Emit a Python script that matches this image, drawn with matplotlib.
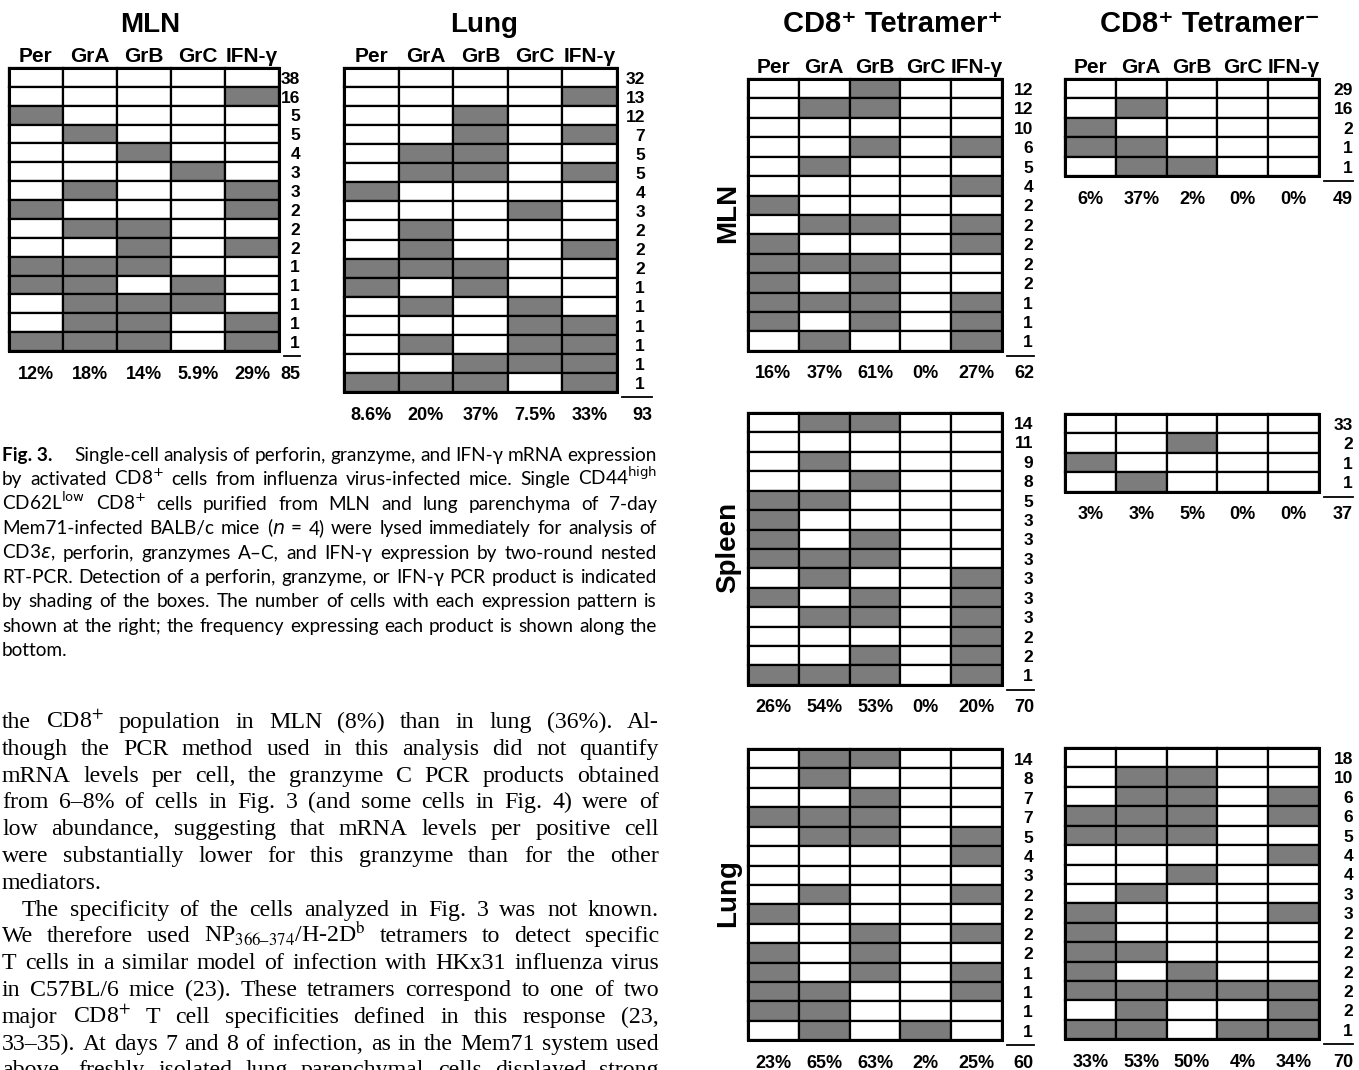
import matplotlib
matplotlib.use("Agg")
import matplotlib.pyplot as plt
from matplotlib import font_manager
from matplotlib.patches import Rectangle

W, H = 1359, 1070

genes = ["Per", "GrA", "GrB", "GrC", "IFN-γ"]

# Fig. 3, MLN (1 = PCR product detected, shaded box)
f3_mln_rows = [
    [0, 0, 0, 0, 0], [0, 0, 0, 0, 1], [1, 0, 0, 0, 0], [0, 1, 0, 0, 0],
    [0, 0, 1, 0, 0], [0, 0, 0, 1, 0], [0, 1, 0, 0, 1], [1, 0, 0, 0, 1],
    [0, 1, 1, 0, 0], [0, 0, 1, 0, 1], [1, 1, 1, 0, 0], [1, 1, 0, 1, 0],
    [0, 1, 1, 1, 0], [0, 1, 1, 0, 1], [1, 1, 1, 0, 1],
]
f3_mln_counts = [38, 16, 5, 5, 4, 3, 3, 2, 2, 2, 1, 1, 1, 1, 1]
f3_mln_pct = ["12%", "18%", "14%", "5.9%", "29%"]
f3_mln_total = 85

# Fig. 3, Lung
f3_lung_rows = [
    [0, 0, 0, 0, 0], [0, 0, 0, 0, 1], [0, 0, 1, 0, 0], [0, 0, 1, 0, 1],
    [0, 1, 1, 0, 0], [0, 1, 1, 0, 1], [1, 0, 0, 0, 0], [0, 0, 0, 1, 0],
    [0, 1, 0, 0, 0], [0, 1, 0, 0, 1], [1, 1, 1, 0, 0], [1, 0, 1, 0, 0],
    [0, 1, 0, 1, 0], [0, 0, 0, 1, 1], [0, 1, 0, 1, 1], [0, 0, 1, 1, 1],
    [1, 1, 1, 0, 1],
]
f3_lung_counts = [32, 13, 12, 7, 5, 5, 4, 3, 2, 2, 2, 1, 1, 1, 1, 1, 1]
f3_lung_pct = ["8.6%", "20%", "37%", "7.5%", "33%"]
f3_lung_total = 93

# Fig. 4, tetramer+ / tetramer- by organ
tp_mln_rows = [
    [0, 0, 1, 0, 0], [0, 1, 1, 0, 0], [0, 0, 0, 0, 0], [0, 0, 1, 0, 1],
    [0, 1, 0, 0, 0], [0, 0, 0, 0, 1], [1, 0, 0, 0, 0], [0, 1, 1, 0, 1],
    [1, 0, 0, 0, 1], [1, 1, 1, 0, 0], [1, 0, 1, 0, 0], [1, 1, 1, 0, 1],
    [1, 0, 1, 0, 1], [0, 1, 0, 0, 1],
]
tp_mln_counts = [12, 12, 10, 6, 5, 4, 2, 2, 2, 2, 2, 1, 1, 1]
tp_mln_pct = ["16%", "37%", "61%", "0%", "27%"]
tp_mln_total = 62

tn_mln_rows = [
    [0, 0, 0, 0, 0], [0, 1, 0, 0, 0], [1, 0, 0, 0, 0], [1, 1, 0, 0, 0],
    [0, 1, 1, 0, 0],
]
tn_mln_counts = [29, 16, 2, 1, 1]
tn_mln_pct = ["6%", "37%", "2%", "0%", "0%"]
tn_mln_total = 49

tp_spl_rows = [
    [0, 1, 1, 0, 0], [0, 0, 0, 0, 0], [0, 1, 0, 0, 0], [0, 0, 1, 0, 0],
    [1, 1, 0, 0, 0], [1, 0, 0, 0, 0], [1, 0, 1, 0, 0], [1, 1, 1, 0, 0],
    [0, 1, 0, 0, 1], [1, 0, 1, 0, 1], [0, 1, 1, 0, 1], [0, 0, 0, 0, 1],
    [0, 0, 1, 0, 1], [1, 1, 1, 0, 1],
]
tp_spl_counts = [14, 11, 9, 8, 5, 3, 3, 3, 3, 3, 3, 2, 2, 1]
tp_spl_pct = ["26%", "54%", "53%", "0%", "20%"]
tp_spl_total = 70

tn_spl_rows = [
    [0, 0, 0, 0, 0], [0, 0, 1, 0, 0], [1, 0, 0, 0, 0], [0, 1, 0, 0, 0],
]
tn_spl_counts = [33, 2, 1, 1]
tn_spl_pct = ["3%", "3%", "5%", "0%", "0%"]
tn_spl_total = 37

tp_lung_rows = [
    [0, 1, 1, 0, 0], [0, 1, 0, 0, 0], [0, 0, 1, 0, 0], [1, 1, 1, 0, 0],
    [0, 1, 1, 0, 1], [0, 0, 0, 0, 1], [0, 0, 0, 0, 0], [0, 1, 0, 0, 1],
    [1, 0, 0, 0, 0], [0, 0, 1, 0, 1], [1, 0, 1, 0, 0], [1, 0, 1, 0, 1],
    [1, 1, 0, 0, 1], [1, 1, 0, 0, 0], [0, 1, 0, 1, 0],
]
tp_lung_counts = [14, 8, 7, 7, 5, 4, 3, 2, 2, 2, 2, 1, 1, 1, 1]
tp_lung_pct = ["23%", "65%", "63%", "2%", "25%"]
tp_lung_total = 60

tn_lung_rows = [
    [0, 0, 0, 0, 0], [0, 1, 1, 0, 0], [0, 1, 1, 0, 1], [1, 1, 1, 0, 1],
    [1, 1, 1, 0, 0], [0, 0, 0, 0, 1], [0, 0, 1, 0, 0], [0, 1, 0, 0, 0],
    [1, 0, 0, 0, 1], [1, 0, 0, 0, 0], [1, 1, 0, 0, 0], [1, 0, 1, 0, 0],
    [1, 1, 1, 1, 1], [0, 1, 0, 0, 1], [1, 1, 0, 1, 1],
]
tn_lung_counts = [18, 10, 6, 6, 5, 4, 4, 3, 3, 2, 2, 2, 2, 2, 1]
tn_lung_pct = ["33%", "53%", "50%", "4%", "34%"]
tn_lung_total = 70

caption_lines = [
    "Single-cell analysis of perforin, granzyme, and IFN-γ mRNA expression",
    "by activated CD8$^{+}$ cells from influenza virus-infected mice. Single CD44$^{\\mathrm{high}}$",
    "CD62L$^{\\mathrm{low}}$ CD8$^{+}$ cells purified from MLN and lung parenchyma of 7-day",
    "Mem71-infected BALB/c mice ($n$ = 4) were lysed immediately for analysis of",
    "CD3$\\varepsilon$, perforin, granzymes A–C, and IFN-γ expression by two-round nested",
    "RT-PCR. Detection of a perforin, granzyme, or IFN-γ PCR product is indicated",
    "by shading of the boxes. The number of cells with each expression pattern is",
    "shown at the right; the frequency expressing each product is shown along the",
    "bottom.",
]

body_lines = [
    "the CD8$^{+}$ population in MLN (8%) than in lung (36%). Al-",
    "though the PCR method used in this analysis did not quantify",
    "mRNA levels per cell, the granzyme C PCR products obtained",
    "from 6–8% of cells in Fig. 3 (and some cells in Fig. 4) were of",
    "low abundance, suggesting that mRNA levels per positive cell",
    "were substantially lower for this granzyme than for the other",
    "mediators.",
    "The specificity of the cells analyzed in Fig. 3 was not known.",
    "We therefore used NP$_{366\u2013374}$/H-2D$^{\\mathrm{b}}$ tetramers to detect specific",
    "T cells in a similar model of infection with HKx31 influenza virus",
    "in C57BL/6 mice (23). These tetramers correspond to one of two",
    "major CD8$^{+}$ T cell specificities defined in this response (23,",
    "33–35). At days 7 and 8 of infection, as in the Mem71 system used",
    "above, freshly isolated lung parenchymal cells displayed strong",
]

SANS = ["Liberation Sans", "DejaVu Sans"]
CAP = ["Lato", "DejaVu Sans"]
SERIF = ["Liberation Serif", "DejaVu Serif"]
GRAY = "#7c7c7c"
PX = 100 / 72  # pixels per point

installed = {f.name for f in font_manager.fontManager.ttflist}
if "Liberation Sans Narrow" in installed:
    CNT_FAM, CNT_FS = ["Liberation Sans Narrow"] + SANS, 14
else:
    CNT_FAM, CNT_FS = SANS, 12.5

fig = plt.figure(figsize=(W / 100, H / 100), dpi=100)
ax = fig.add_axes([0, 0, 1, 1])
ax.set_xlim(0, W)
ax.set_ylim(H, 0)
ax.axis("off")


def btext(x, y, s, fs, ha="center", family=SANS, **kw):
    # y is the visual middle of capitals/digits
    ax.text(x, y + 0.36 * fs * PX, s, fontsize=fs, weight="bold", family=family,
            ha=ha, va="baseline", **kw)


def panel(rows, counts, pct, total, x0, x1, top, rh, cnt_x, tot_x, header=True):
    ncol = len(rows[0])
    cw = (x1 - x0) / ncol
    for i, row in enumerate(rows):
        y = top + i * rh
        for j, v in enumerate(row):
            ax.add_patch(Rectangle((x0 + j * cw, y), cw, rh,
                                   facecolor=GRAY if v else "white",
                                   edgecolor="black", lw=1.6))
        btext(cnt_x, y + rh / 2, str(counts[i]), CNT_FS, ha="right", family=CNT_FAM)
    bottom = top + len(rows) * rh
    ax.add_patch(Rectangle((x0, top), x1 - x0, bottom - top, fill=False,
                           edgecolor="black", lw=2.2))
    if header:
        for j, g in enumerate(genes):
            btext(x0 + (j + 0.5) * cw, top - 13.5, g, 15)
    for j, p in enumerate(pct):
        btext(x0 + (j + 0.5) * cw, bottom + 21, p, 13)
    btext(tot_x, bottom + 21, str(total), 13, ha="right")
    ax.plot([x1 + 5, tot_x], [bottom + 5, bottom + 5], color="black", lw=1.3)


# left figure (Fig. 3)
btext(150, 22, "MLN", 20)
btext(484, 22, "Lung", 20)
panel(f3_mln_rows, f3_mln_counts, f3_mln_pct, f3_mln_total, 9, 279, 68, 18.87, 300, 300)
panel(f3_lung_rows, f3_lung_counts, f3_lung_pct, f3_lung_total, 344, 617, 68, 19.06, 645, 652)

# right figure (tetramer panels)
btext(893, 22, "CD8⁺ Tetramer⁺", 21)
btext(1210, 22, "CD8⁺ Tetramer⁻", 21)
RH = 19.42
panel(tp_mln_rows, tp_mln_counts, tp_mln_pct, tp_mln_total, 748, 1002, 79, RH, 1033, 1034)
panel(tn_mln_rows, tn_mln_counts, tn_mln_pct, tn_mln_total, 1065, 1319, 79, RH, 1353, 1353)
panel(tp_spl_rows, tp_spl_counts, tp_spl_pct, tp_spl_total, 748, 1002, 413, RH, 1033, 1034, header=False)
panel(tn_spl_rows, tn_spl_counts, tn_spl_pct, tn_spl_total, 1065, 1319, 414, RH, 1353, 1353, header=False)
panel(tp_lung_rows, tp_lung_counts, tp_lung_pct, tp_lung_total, 748, 1002, 749, RH, 1033, 1034, header=False)
panel(tn_lung_rows, tn_lung_counts, tn_lung_pct, tn_lung_total, 1065, 1319, 748, RH, 1353, 1353, header=False)

for lab, yc in [("MLN", 213), ("Spleen", 547), ("Lung", 893)]:
    ax.text(728, yc, lab, rotation=90, fontsize=20, weight="bold", family=SANS,
            ha="center", va="center")

# justified text blocks
renderer = fig.canvas.get_renderer()


def put_line(s, x0, x1, base, fs, family, mathfam, justify=True, weight="normal"):
    words = s.split(" ")
    ts = [ax.text(x0, base, w, fontsize=fs, family=family, weight=weight,
                  math_fontfamily=mathfam, ha="left", va="baseline") for w in words]
    ws = [t.get_window_extent(renderer).width for t in ts]
    gap = 0.25 * fs * PX
    if justify and len(ts) > 1:
        gap = max((x1 - x0 - sum(ws)) / (len(ts) - 1), 0.12 * fs * PX)
    x = x0
    for t, w in zip(ts, ws):
        t.set_x(x)
        x += w + gap


CAP_FS = 13.7
cap_base = 461
for i, line in enumerate(caption_lines):
    y = cap_base + i * 24.4
    x0 = 2
    if i == 0:
        ax.text(2, y, "Fig. 3.", fontsize=CAP_FS, weight="bold", family=CAP,
                ha="left", va="baseline")
        x0 = 74
    put_line(line, x0, 657, y, CAP_FS, CAP, "dejavusans",
             justify=(i < len(caption_lines) - 1))

BODY_FS = 17.2
body_base = 728
for i, line in enumerate(body_lines):
    y = body_base + i * 26.8
    x0 = 22 if line.startswith("The specificity") else 2
    put_line(line, x0, 659, y, BODY_FS, SERIF, "stix",
             justify=(not line.startswith("mediators")))

fig.savefig("out.png", dpi=100)
